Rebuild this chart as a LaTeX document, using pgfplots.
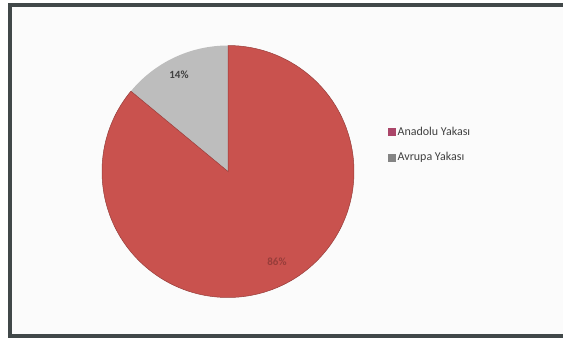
\documentclass[border=0pt]{standalone}
\usepackage{pgfplots}
\usepackage{pgfplotstable}
\pgfplotsset{compat=1.18}
\usepackage{fontspec}
\setmainfont{Carlito}
\definecolor{redS}{HTML}{C9524E}
\definecolor{grayS}{HTML}{BDBDBD}
\definecolor{frameC}{HTML}{414849}
\definecolor{txt}{HTML}{404040}
\pgfplotstableread{
label value
Anadolu 86
Avrupa 14
}\piedata
\begin{document}
\begin{tikzpicture}
\pgfplotstablegetelem{0}{value}\of\piedata \let\va\pgfplotsretval
\pgfplotstablegetelem{1}{value}\of\piedata \let\vb\pgfplotsretval
\pgfmathsetmacro\angB{90+3.6*\vb}
\pgfmathsetmacro\angE{\angB+3.6*\va}
\begin{axis}[
  x=1pt, y=1pt, scale only axis,
  xmin=0, xmax=563, ymin=0, ymax=341,
  hide axis, clip=false,
  legend style={at={(axis cs:385,196.5)}, anchor=west, draw=none, fill=none,
    font=\fontsize{12}{14}\selectfont\color{txt}, row sep=12pt,
    /tikz/every even column/.append style={column sep=1pt}},
  legend cell align=left,
  legend image code/.code={\fill[#1] (0pt,-3.5pt) rectangle (7pt,3.5pt);},
]
\fill[white!98.5!black] (axis cs:10,5) rectangle (axis cs:563,336);
\fill[grayS] (axis cs:228,169.5) -- ++(90:126pt) arc[start angle=90, end angle=\angB, radius=126pt] -- cycle;
\fill[redS, draw=redS!75!black, line width=0.5pt] (axis cs:228,169.5) -- ++(\angB:126pt) arc[start angle=\angB, end angle=\angE, radius=126pt] -- cycle;
\addlegendimage{redS!85!blue}
\addlegendentry{Anadolu Yakası}
\addlegendimage{grayS!70!black}
\addlegendentry{Avrupa Yakası}
\node[font=\bfseries\fontsize{11}{12}\selectfont, text=txt] at (axis cs:179,266) {14\%};
\node[font=\bfseries\fontsize{11}{12}\selectfont, text=redS!75!black] at (axis cs:277,79) {86\%};
\draw[frameC, line width=3.5pt] (axis cs:563,336) -- (axis cs:10,336) -- (axis cs:10,5) -- (axis cs:563,5);
\end{axis}
\pgfresetboundingbox
\path (0,0) rectangle (563pt,341pt);
\end{tikzpicture}
\end{document}
